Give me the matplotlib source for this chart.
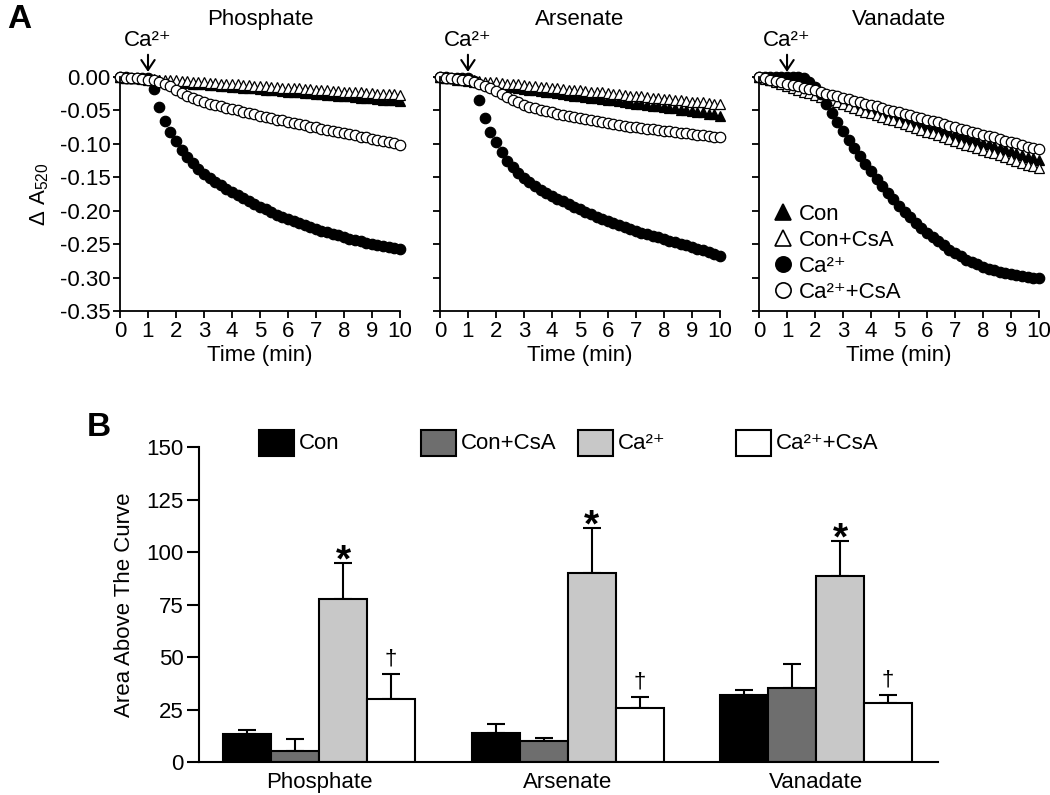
"""
Ca2+-induced swelling traces (A) and area above the curve (B) -> out.png
"""

import matplotlib
matplotlib.use("Agg")
import matplotlib.pyplot as plt
import matplotlib.patches as mpatches
from matplotlib.lines import Line2D
import numpy as np

plt.rcParams["font.family"] = ["Liberation Sans", "DejaVu Sans"]
plt.rcParams["mathtext.fontset"] = "custom"
plt.rcParams["mathtext.rm"] = "Liberation Sans"
plt.rcParams["axes.unicode_minus"] = False

FS = 16

# ---- panel A data: delta A520, one reading every 0.2 min ----
TIME = np.linspace(0, 10, 51)
PANELS = ["Phosphate", "Arsenate", "Vanadate"]
SERIES = ["Con", "Con+CsA", "Ca\u00b2\u207a", "Ca\u00b2\u207a+CsA"]

PHOS_CON = [0.000, -0.001, -0.001, -0.002, -0.003, -0.004, -0.004, -0.005, -0.006, -0.007,
            -0.008, -0.008, -0.009, -0.010, -0.010, -0.011, -0.012, -0.012, -0.013, -0.014,
            -0.015, -0.015, -0.016, -0.017, -0.017, -0.018, -0.019, -0.019, -0.020, -0.021,
            -0.022, -0.022, -0.023, -0.024, -0.024, -0.025, -0.026, -0.027, -0.027, -0.028,
            -0.029, -0.029, -0.030, -0.031, -0.032, -0.032, -0.033, -0.034, -0.035, -0.035,
            -0.036]
PHOS_CON_CSA = [0.000, -0.001, -0.001, -0.002, -0.002, -0.003, -0.003, -0.004, -0.004, -0.005,
                -0.005, -0.006, -0.006, -0.007, -0.008, -0.008, -0.009, -0.009, -0.010, -0.010,
                -0.011, -0.011, -0.012, -0.012, -0.013, -0.013, -0.014, -0.015, -0.015, -0.016,
                -0.016, -0.017, -0.017, -0.018, -0.018, -0.019, -0.019, -0.020, -0.021, -0.021,
                -0.022, -0.022, -0.023, -0.023, -0.024, -0.024, -0.025, -0.025, -0.026, -0.026,
                -0.027]
PHOS_CA = [0.000, 0.000, -0.001, -0.001, -0.002, -0.002, -0.018, -0.045, -0.066, -0.082,
           -0.096, -0.109, -0.120, -0.129, -0.137, -0.145, -0.151, -0.157, -0.162, -0.167,
           -0.172, -0.177, -0.181, -0.186, -0.190, -0.194, -0.198, -0.202, -0.206, -0.209,
           -0.212, -0.215, -0.218, -0.221, -0.224, -0.227, -0.230, -0.232, -0.235, -0.237,
           -0.240, -0.242, -0.244, -0.246, -0.248, -0.250, -0.251, -0.253, -0.255, -0.256,
           -0.257]
PHOS_CA_CSA = [0.000, -0.001, -0.002, -0.002, -0.003, -0.004, -0.005, -0.007, -0.010, -0.014,
               -0.019, -0.024, -0.028, -0.031, -0.034, -0.037, -0.040, -0.042, -0.044, -0.046,
               -0.048, -0.050, -0.052, -0.054, -0.056, -0.058, -0.060, -0.062, -0.064, -0.065,
               -0.067, -0.069, -0.070, -0.072, -0.074, -0.075, -0.077, -0.079, -0.080, -0.082,
               -0.084, -0.085, -0.087, -0.089, -0.090, -0.092, -0.094, -0.095, -0.097, -0.099,
               -0.101]

ARS_CON = [0.000, -0.001, -0.002, -0.004, -0.005, -0.006, -0.007, -0.008, -0.010, -0.011,
           -0.012, -0.013, -0.014, -0.015, -0.017, -0.018, -0.019, -0.020, -0.021, -0.022,
           -0.023, -0.024, -0.025, -0.027, -0.028, -0.029, -0.030, -0.031, -0.032, -0.033,
           -0.034, -0.035, -0.036, -0.037, -0.039, -0.040, -0.041, -0.042, -0.043, -0.044,
           -0.045, -0.046, -0.047, -0.049, -0.050, -0.051, -0.052, -0.053, -0.055, -0.056,
           -0.058]
ARS_CON_CSA = [0.000, -0.001, -0.002, -0.002, -0.003, -0.004, -0.005, -0.006, -0.007, -0.007,
               -0.008, -0.009, -0.010, -0.011, -0.011, -0.012, -0.013, -0.014, -0.015, -0.015,
               -0.016, -0.017, -0.018, -0.019, -0.019, -0.020, -0.021, -0.022, -0.023, -0.023,
               -0.024, -0.025, -0.026, -0.027, -0.028, -0.028, -0.029, -0.030, -0.031, -0.032,
               -0.033, -0.033, -0.034, -0.035, -0.036, -0.037, -0.037, -0.038, -0.039, -0.040,
               -0.041]
ARS_CA = [0.000, 0.000, -0.001, -0.001, -0.002, -0.002, -0.006, -0.035, -0.062, -0.082,
          -0.097, -0.112, -0.125, -0.135, -0.144, -0.151, -0.157, -0.163, -0.169, -0.174,
          -0.178, -0.182, -0.186, -0.190, -0.194, -0.198, -0.202, -0.205, -0.209, -0.212,
          -0.215, -0.218, -0.221, -0.224, -0.227, -0.230, -0.233, -0.235, -0.238, -0.240,
          -0.243, -0.245, -0.247, -0.250, -0.252, -0.254, -0.257, -0.259, -0.262, -0.265,
          -0.268]
ARS_CA_CSA = [0.000, -0.001, -0.002, -0.003, -0.004, -0.005, -0.007, -0.010, -0.013, -0.017,
              -0.021, -0.025, -0.030, -0.034, -0.038, -0.042, -0.045, -0.047, -0.049, -0.051,
              -0.053, -0.055, -0.057, -0.059, -0.060, -0.062, -0.063, -0.065, -0.066, -0.068,
              -0.069, -0.070, -0.072, -0.073, -0.074, -0.075, -0.076, -0.077, -0.078, -0.079,
              -0.080, -0.081, -0.082, -0.083, -0.084, -0.085, -0.086, -0.087, -0.088, -0.089,
              -0.090]

VAN_CON = [0.000, -0.002, -0.004, -0.006, -0.008, -0.010, -0.013, -0.015, -0.018, -0.020,
           -0.023, -0.025, -0.028, -0.030, -0.033, -0.035, -0.038, -0.040, -0.043, -0.045,
           -0.048, -0.050, -0.053, -0.055, -0.058, -0.060, -0.063, -0.065, -0.068, -0.070,
           -0.073, -0.075, -0.078, -0.080, -0.083, -0.085, -0.088, -0.090, -0.093, -0.095,
           -0.098, -0.100, -0.103, -0.106, -0.108, -0.111, -0.113, -0.116, -0.119, -0.121,
           -0.124]
VAN_CON_CSA = [0.000, -0.003, -0.005, -0.008, -0.011, -0.013, -0.016, -0.019, -0.022, -0.024,
               -0.027, -0.030, -0.033, -0.035, -0.038, -0.041, -0.044, -0.046, -0.049, -0.052,
               -0.054, -0.057, -0.060, -0.063, -0.065, -0.068, -0.071, -0.073, -0.076, -0.079,
               -0.082, -0.084, -0.087, -0.090, -0.092, -0.095, -0.098, -0.101, -0.103, -0.106,
               -0.109, -0.112, -0.114, -0.117, -0.120, -0.122, -0.125, -0.128, -0.131, -0.133,
               -0.136]
VAN_CA = [0.000, 0.000, 0.000, 0.000, 0.000, 0.000, 0.000, 0.000, -0.002, -0.007,
          -0.015, -0.026, -0.040, -0.054, -0.068, -0.081, -0.094, -0.106, -0.118, -0.130,
          -0.141, -0.152, -0.163, -0.173, -0.183, -0.193, -0.202, -0.210, -0.218, -0.226,
          -0.233, -0.240, -0.246, -0.252, -0.258, -0.263, -0.268, -0.273, -0.277, -0.280,
          -0.284, -0.287, -0.289, -0.291, -0.293, -0.295, -0.296, -0.298, -0.299, -0.300,
          -0.301]
VAN_CA_CSA = [0.000, -0.002, -0.004, -0.006, -0.008, -0.010, -0.012, -0.014, -0.016, -0.018,
              -0.020, -0.023, -0.025, -0.027, -0.029, -0.031, -0.033, -0.036, -0.038, -0.040,
              -0.042, -0.044, -0.047, -0.049, -0.051, -0.053, -0.055, -0.057, -0.060, -0.062,
              -0.064, -0.066, -0.068, -0.071, -0.073, -0.075, -0.077, -0.079, -0.082, -0.084,
              -0.086, -0.088, -0.090, -0.093, -0.095, -0.097, -0.099, -0.101, -0.104, -0.106,
              -0.108]

YTICKS_A = [0.0, -0.05, -0.10, -0.15, -0.20, -0.25, -0.30, -0.35]
XTICKS_A = list(range(11))

# ---- panel B data: area above the curve, mean and upper SEM ----
CON_MEAN = [13.5, 13.8, 31.7]
CON_ERR = [1.9, 4.1, 2.6]
CON_CSA_MEAN = [5.1, 10.2, 35.4]
CON_CSA_ERR = [5.9, 1.4, 11.4]
CA_MEAN = [77.5, 90.2, 88.6]
CA_ERR = [17.4, 21.1, 16.8]
CA_CSA_MEAN = [29.8, 25.7, 28.3]
CA_CSA_ERR = [12.3, 5.1, 3.6]
CA_SIG = ["*", "*", "*"]
CA_CSA_SIG = ["\u2020", "\u2020", "\u2020"]
YTICKS_B = [0, 25, 50, 75, 100, 125, 150]

MARKERS = [("^", "black"), ("^", "white"), ("o", "black"), ("o", "white")]
BAR_COLORS = ["#000000", "#6e6e6e", "#c8c8c8", "#ffffff"]


def style_axes(ax, lw=1.3):
    for side in ("top", "right"):
        ax.spines[side].set_visible(False)
    for side in ("left", "bottom"):
        ax.spines[side].set_linewidth(lw)


def main():
    fig = plt.figure(figsize=(10.5, 7.95), dpi=100)

    curves = {
        "Phosphate": [PHOS_CON, PHOS_CON_CSA, PHOS_CA, PHOS_CA_CSA],
        "Arsenate": [ARS_CON, ARS_CON_CSA, ARS_CA, ARS_CA_CSA],
        "Vanadate": [VAN_CON, VAN_CON_CSA, VAN_CA, VAN_CA_CSA],
    }

    # ---- Panel A ----
    lefts = [0.1143, 0.4190, 0.7229]
    for i, name in enumerate(PANELS):
        ax = fig.add_axes([lefts[i], 0.6088, 0.2665, 0.2943])
        for vals, (mk, fc) in zip(curves[name], MARKERS):
            ax.plot(TIME, vals, linestyle="none", marker=mk, ms=7.5, mfc=fc,
                    mec="black", mew=0.9, clip_on=False)
        ax.set_xlim(0, 10)
        ax.set_ylim(-0.35, 0)
        style_axes(ax)
        ax.set_xticks(XTICKS_A)
        ax.set_yticks(YTICKS_A)
        if i == 0:
            ax.set_yticklabels([f"{abs(v):.2f}" if v == 0 else f"{v:.2f}" for v in YTICKS_A])
            ax.set_ylabel("\u0394 A$_{\\mathregular{520}}$", fontsize=FS, labelpad=6)
        else:
            ax.set_yticklabels([])
        ax.tick_params(direction="out", length=5, width=1.3, labelsize=FS, pad=2)
        ax.set_xlabel("Time (min)", fontsize=FS, labelpad=2)

        ax.text(0.5, 1.244, name, transform=ax.transAxes, ha="center",
                va="center", fontsize=FS)
        ax.annotate(SERIES[2], xy=(1, 1.022), xycoords=("data", "axes fraction"),
                    xytext=(1, 1.158), textcoords=("data", "axes fraction"),
                    ha="center", va="center", fontsize=FS,
                    arrowprops=dict(arrowstyle="->,head_length=0.45,head_width=0.3",
                                    color="black", lw=1.5, shrinkA=1, shrinkB=0))

        if name == "Vanadate":
            handles = [Line2D([], [], linestyle="none", marker=mk, ms=11, mfc=fc,
                              mec="black", mew=1.2) for mk, fc in MARKERS]
            ax.legend(handles, SERIES, loc="lower left", bbox_to_anchor=(0.046, 0.035),
                      frameon=False, fontsize=FS, handlelength=1.0, handletextpad=0.2,
                      labelspacing=0.22, borderpad=0, borderaxespad=0)

    fig.text(0.0067, 0.9648, "A", fontsize=24, fontweight="bold", va="baseline")

    # ---- Panel B ----
    axb = fig.add_axes([0.1895, 0.0415, 0.7038, 0.3962])
    x = np.arange(len(PANELS))
    w = 0.193
    bar_sets = [
        (CON_MEAN, CON_ERR),
        (CON_CSA_MEAN, CON_CSA_ERR),
        (CA_MEAN, CA_ERR),
        (CA_CSA_MEAN, CA_CSA_ERR),
    ]
    for k, (mean, err) in enumerate(bar_sets):
        pos = x + (k - 1.5) * w
        axb.bar(pos, mean, width=w, color=BAR_COLORS[k], edgecolor="black",
                linewidth=1.5, zorder=2)
        axb.errorbar(pos, mean, yerr=[np.zeros(len(err)), err], fmt="none",
                     ecolor="black", elinewidth=1.5, capsize=6.5, capthick=1.5, zorder=1)
        if k == 2:
            for px, m, e, s in zip(pos, mean, err, CA_SIG):
                axb.text(px, m + e - 4, s, ha="center", va="baseline", fontsize=28,
                         fontweight="bold")
        if k == 3:
            for px, m, e, s in zip(pos, mean, err, CA_CSA_SIG):
                axb.text(px, m + e + 4.5, s, ha="center", va="baseline", fontsize=FS)

    axb.set_xlim(-0.483, 2.49)
    axb.set_ylim(0, 150)
    style_axes(axb, lw=1.5)
    axb.set_yticks(YTICKS_B)
    axb.set_xticks(x)
    axb.set_xticklabels(PANELS)
    axb.tick_params(axis="y", direction="out", length=9, width=1.5, labelsize=FS, pad=2)
    axb.tick_params(axis="x", length=0, labelsize=FS, pad=7)
    axb.set_ylabel("Area Above The Curve", fontsize=FS, labelpad=8)

    # legend row above the bars
    leg_x = [0.0812, 0.3004, 0.5129, 0.7267]
    for k, label in enumerate(SERIES):
        rect = mpatches.Rectangle((leg_x[k], 0.971), 0.0474, 0.083,
                                  transform=axb.transAxes, clip_on=False,
                                  facecolor=BAR_COLORS[k], edgecolor="black", linewidth=1.5)
        axb.add_patch(rect)
        axb.text(leg_x[k] + 0.0474 + 0.006, 1.0127, label, transform=axb.transAxes,
                 ha="left", va="center", fontsize=FS)

    fig.text(0.0829, 0.4516, "B", fontsize=24, fontweight="bold", va="baseline")

    fig.savefig("out.png", dpi=100, facecolor="white")
    plt.close(fig)


if __name__ == "__main__":
    main()
